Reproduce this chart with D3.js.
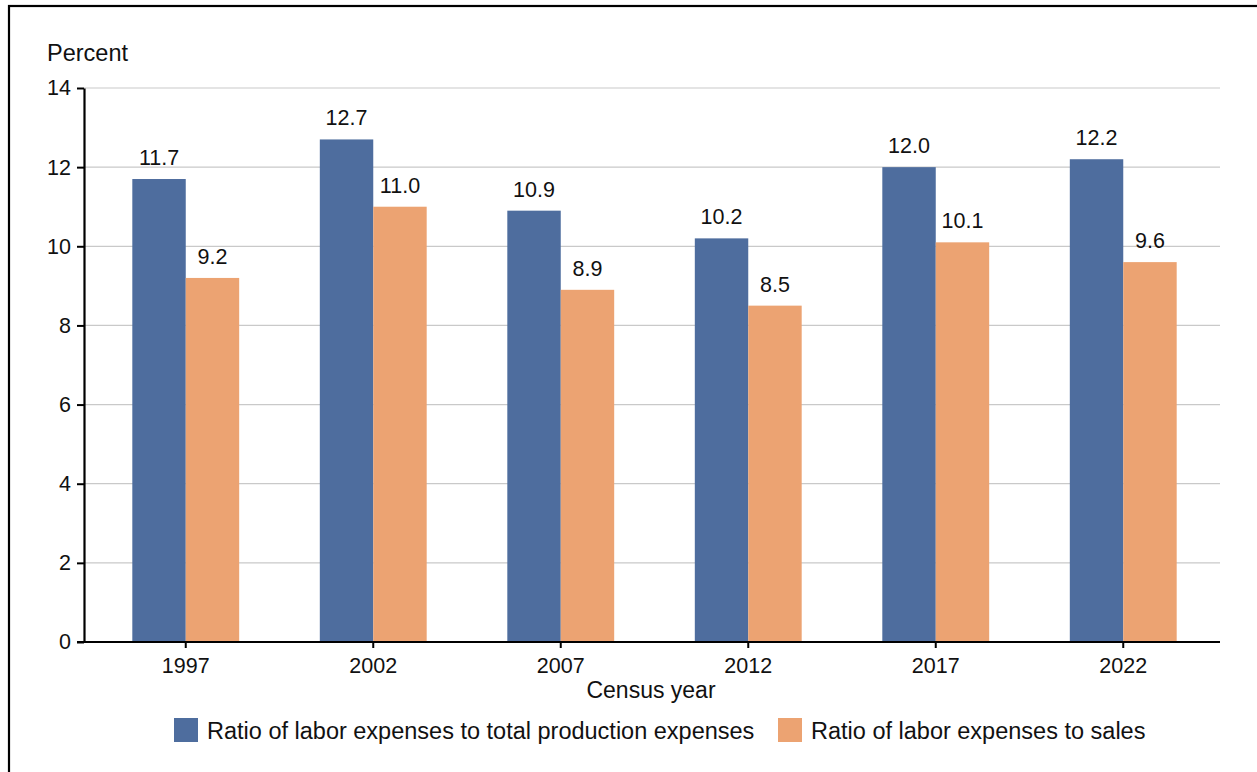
<!DOCTYPE html>
<html>
<head>
<meta charset="utf-8">
<script src="https://cdn.jsdelivr.net/npm/d3@7"></script>
<style>
  html, body { margin: 0; padding: 0; background: #fff; }
  svg { display: block; font-family: "Liberation Sans", Arial, sans-serif; }
</style>
</head>
<body>
<svg id="chart" width="1257" height="772"></svg>
<script>
const years = ["1997", "2002", "2007", "2012", "2017", "2022"];
const laborToProduction = [11.7, 12.7, 10.9, 10.2, 12.0, 12.2];
const laborToSales = [9.2, 11.0, 8.9, 8.5, 10.1, 9.6];
const seriesNames = ["Ratio of labor expenses to total production expenses", "Ratio of labor expenses to sales"];
const yTicks = [0, 2, 4, 6, 8, 10, 12, 14];
const colors = ["#4e6d9e", "#eca372"];

const svg = d3.select("#chart");

// frame
svg.append("rect").attr("x", 9).attr("y", 6).attr("width", 1400).attr("height", 900)
  .attr("fill", "none").attr("stroke", "#000").attr("stroke-width", 2.2);

const y = d3.scaleLinear().domain([0, 14]).range([642, 88]);
const x = d3.scaleBand().domain(years).range([92, 1217]).paddingInner(0.43).paddingOuter(0.215);
const xs = d3.scaleBand().domain([0, 1]).range([0, x.bandwidth()]);

// gridlines
svg.append("g").selectAll("line").data(yTicks.filter(d => d > 0)).join("line")
  .attr("x1", 84).attr("x2", 1220).attr("y1", d => y(d)).attr("y2", d => y(d))
  .attr("stroke", "#c9c9c9").attr("stroke-width", 1.2);

// bars
const series = [laborToProduction, laborToSales];
series.forEach((vals, si) => {
  const g = svg.append("g");
  g.selectAll("rect").data(vals).join("rect")
    .attr("x", (d, i) => x(years[i]) + xs(si))
    .attr("y", d => y(d))
    .attr("width", xs.bandwidth())
    .attr("height", d => y(0) - y(d))
    .attr("fill", colors[si]);
  g.selectAll("text").data(vals).join("text")
    .attr("x", (d, i) => x(years[i]) + xs(si) + xs.bandwidth() / 2)
    .attr("y", d => y(d) - 14)
    .attr("text-anchor", "middle")
    .attr("font-size", 21.5)
    .attr("fill", "#111")
    .text(d => d.toFixed(1));
});

// y axis
const yAxis = svg.append("g").attr("transform", "translate(84,0)")
  .call(d3.axisLeft(y).tickValues(yTicks).tickSize(7).tickPadding(6).tickSizeOuter(0));
yAxis.select(".domain").attr("stroke", "#000").attr("stroke-width", 2.2);
yAxis.selectAll(".tick line").attr("stroke", "#000").attr("stroke-width", 2);
yAxis.selectAll(".tick text").attr("font-size", 21.5).attr("fill", "#111").attr("font-family", "Liberation Sans, Arial, sans-serif");

// x axis
const xAxis = svg.append("g").attr("transform", "translate(0,642)")
  .call(d3.axisBottom(x).tickSize(6).tickPadding(6).tickSizeOuter(0));
xAxis.select(".domain").attr("d", "M77,0H1220").attr("stroke", "#000").attr("stroke-width", 2.2);
xAxis.selectAll(".tick line").attr("stroke", "#000").attr("stroke-width", 2);
xAxis.selectAll(".tick text").attr("font-size", 21.5).attr("fill", "#111").attr("font-family", "Liberation Sans, Arial, sans-serif").attr("dy", "0.88em");

// titles
svg.append("text").attr("x", 47).attr("y", 61).attr("font-size", 23.5).attr("fill", "#111").text("Percent");
svg.append("text").attr("x", 651).attr("y", 698).attr("text-anchor", "middle").attr("font-size", 23).attr("fill", "#111").text("Census year");

// legend
const legendX = [174, 778];
seriesNames.forEach((name, i) => {
  svg.append("rect").attr("x", legendX[i]).attr("y", 718).attr("width", 24).attr("height", 24).attr("fill", colors[i]);
  svg.append("text").attr("x", legendX[i] + 33).attr("y", 739).attr("font-size", 23.5).attr("fill", "#111").text(name);
});
</script>
</body>
</html>
